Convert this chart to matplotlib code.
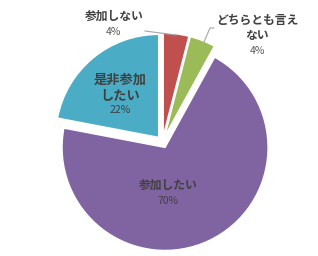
import matplotlib.pyplot as plt

plt.rcParams['font.family'] = ['Noto Sans CJK JP', 'DejaVu Sans']

# data (clockwise from 12 o'clock)
labels = ['参加しない', 'どちらとも言え\nない', '参加したい', '是非参加\nしたい']
values = [4, 4, 70, 22]
colors = ['#C0504D', '#9BBB59', '#8064A2', '#4BACC6']

H = 256
fig = plt.figure(figsize=(3.18, 2.56), dpi=100)
ax = fig.add_axes([0, 0, 1, 1])

# explode is in data units here (1 unit = 1 px)
wedges, _ = ax.pie(values, colors=colors, startangle=90, counterclock=False,
                   explode=[6] * 4, center=(162.5, H - 142), radius=103,
                   wedgeprops=dict(edgecolor='white', linewidth=1))

# pie resets the limits, so set pixel-like coords afterwards
ax.set_xlim(0, 318)
ax.set_ylim(0, H)
ax.set_aspect('equal')
ax.axis('off')

txt = '#404040'
pct = '#595959'


def put(x, y, s, size, bold=False, color=txt, ls=1.2):
    ax.text(x, H - y, s, ha='center', va='center', fontsize=size,
            fontweight='bold' if bold else 'normal', color=color, linespacing=ls)


put(114, 16, labels[0], 8.5, True)
put(114, 32, f'{values[0]}%', 7.5, color=pct)
ax.plot([145, 176], [H - 31, H - 35], color='#A6A6A6', lw=0.8)

put(257, 28, labels[1], 8.5, True, ls=1.15)
put(257, 51, f'{values[1]}%', 7.5, color=pct)
ax.plot([214, 210, 204], [H - 28, H - 28, H - 42], color='#A6A6A6', lw=0.8)

put(120, 88, labels[3], 9.5, True, ls=1.2)
put(120, 110, f'{values[3]}%', 7.5, color=txt)

put(168, 185, labels[2], 8.5, True)
put(168, 201, f'{values[2]}%', 7.5, color=txt)

fig.savefig('out.png', dpi=100, facecolor='white')
